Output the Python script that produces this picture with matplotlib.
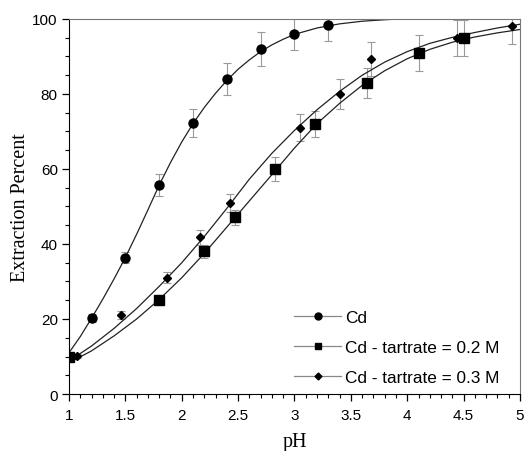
import matplotlib
matplotlib.use('Agg')
import matplotlib.pyplot as plt
from matplotlib.lines import Line2D
from matplotlib.ticker import MultipleLocator, FormatStrFormatter

# Measured points (pH, extraction %) with error bars
cd_ph = [1.0, 1.2, 1.5, 1.8, 2.1, 2.4, 2.7, 3.0, 3.3]
cd_ext = [10.0, 20.2, 36.3, 55.7, 72.2, 84.0, 92.0, 96.1, 98.4]
cd_err = [0.0, 1.0, 1.5, 2.9, 3.7, 4.3, 4.5, 4.4, 4.3]

t02_ph = [1.0, 1.8, 2.2, 2.475, 2.83, 3.18, 3.64, 4.1, 4.5]
t02_ext = [10.0, 25.0, 38.0, 47.1, 60.0, 72.0, 82.9, 90.9, 94.9]
t02_err = [0.0, 1.0, 1.7, 2.0, 3.1, 3.5, 4.1, 4.7, 4.8]

t03_ph = [1.07, 1.46, 1.87, 2.16, 2.43, 3.05, 3.4, 3.68, 4.44, 4.93]
t03_ext = [10.1, 21.0, 31.0, 41.8, 51.0, 71.0, 80.0, 89.3, 94.9, 98.0]
t03_err = [0.5, 1.0, 1.5, 2.0, 2.4, 3.6, 4.0, 4.5, 4.8, 4.6]

# Fitted curves
cd_fit_ph = [1.0, 1.1, 1.2, 1.3, 1.4, 1.5, 1.6, 1.7, 1.8, 1.9, 2.0, 2.1, 2.2, 2.3,
             2.4, 2.5, 2.6, 2.7, 2.8, 2.9, 3.0, 3.2, 3.4, 3.6, 3.8, 4.0, 4.5, 5.0]
cd_fit = [11.0, 15.3, 20.2, 25.3, 30.7, 36.4, 42.6, 49.1, 55.7, 61.7, 67.2, 72.1,
          76.4, 80.2, 83.6, 86.6, 89.1, 91.3, 93.1, 94.6, 95.9, 97.6, 98.7, 99.4,
          99.8, 100.1, 100.6, 101.0]

fit_ph = [1.0, 1.2, 1.4, 1.6, 1.8, 2.0, 2.2, 2.4, 2.6, 2.8, 3.0, 3.2, 3.4, 3.6,
          3.8, 4.0, 4.2, 4.4, 4.6, 4.8, 5.0]
t02_fit = [8.3, 11.5, 15.5, 20.0, 25.2, 31.0, 37.5, 44.5, 51.5, 58.5, 65.6, 72.1,
           77.5, 82.3, 86.2, 89.4, 91.9, 93.8, 95.2, 96.3, 97.2]
t03_fit = [8.8, 12.8, 17.5, 22.8, 28.7, 35.0, 42.0, 49.5, 57.3, 64.2, 70.3, 75.8,
           80.7, 85.0, 88.5, 91.3, 93.5, 95.1, 96.4, 97.6, 98.6]

labels = ['Cd', 'Cd - tartrate = 0.2 M', 'Cd - tartrate = 0.3 M']

fig = plt.figure(figsize=(5.29, 4.52), dpi=100)
ax = fig.add_axes([0.1304, 0.1261, 0.8526, 0.8297])

line_kw = dict(color='#222222', lw=0.9, zorder=2)
ax.plot(cd_fit_ph, cd_fit, **line_kw)
ax.plot(fit_ph, t02_fit, **line_kw)
ax.plot(fit_ph, t03_fit, **line_kw)

err_kw = dict(fmt='none', ecolor='#9a9a9a', elinewidth=0.8, capsize=3, capthick=0.8, zorder=1)
ax.errorbar(cd_ph, cd_ext, yerr=cd_err, **err_kw)
ax.errorbar(t02_ph, t02_ext, yerr=t02_err, **err_kw)
ax.errorbar(t03_ph, t03_ext, yerr=t03_err, **err_kw)

ax.plot(cd_ph, cd_ext, 'o', color='black', ms=6.5, zorder=3)
ax.plot(t02_ph, t02_ext, 's', color='black', ms=6.5, zorder=4)
ax.plot(t03_ph, t03_ext, 'D', color='black', ms=4.2, zorder=5)

ax.set_xlim(1, 5)
ax.set_ylim(0, 100)
ax.xaxis.set_major_locator(MultipleLocator(0.5))
ax.xaxis.set_minor_locator(MultipleLocator(0.1))
ax.xaxis.set_major_formatter(FormatStrFormatter('%g'))
ax.yaxis.set_major_locator(MultipleLocator(20))
ax.yaxis.set_minor_locator(MultipleLocator(5))

ax.tick_params(which='major', direction='out', length=5, width=0.9, labelsize=11,
               pad=3)
ax.tick_params(axis='x', which='major', pad=5)
ax.tick_params(which='minor', direction='out', length=3, width=0.8)
for lab in ax.get_xticklabels() + ax.get_yticklabels():
    lab.set_fontfamily('Liberation Sans')

for s in ['top', 'right']:
    ax.spines[s].set_color('#777777')
for s in ['left', 'bottom']:
    ax.spines[s].set_color('black')

ax.set_xlabel('pH', fontfamily='Liberation Serif', fontsize=14.5, labelpad=7)
ax.set_ylabel('Extraction Percent', fontfamily='Liberation Serif', fontsize=14.5, labelpad=2)

handles = [
    Line2D([], [], color='#888888', lw=0.9, marker='o', mfc='black', mec='black', ms=5),
    Line2D([], [], color='#888888', lw=0.9, marker='s', mfc='black', mec='black', ms=5),
    Line2D([], [], color='#888888', lw=0.9, marker='D', mfc='black', mec='black', ms=3.5),
]
ax.legend(handles, labels, loc='upper left', bbox_to_anchor=(0.48, 0.248),
          frameon=False, borderpad=0, handlelength=2.73, handletextpad=0.23,
          labelspacing=0.87, prop={'family': 'Liberation Sans', 'size': 12.4})

fig.savefig('out.png', dpi=100)
